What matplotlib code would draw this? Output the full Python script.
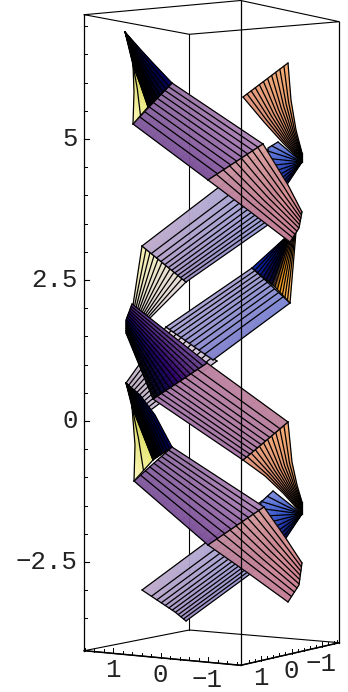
import matplotlib
matplotlib.use('Agg')
import matplotlib.pyplot as plt
from matplotlib.collections import PolyCollection
import numpy as np

box_top = [(84.3, 14.7), (240.7, 0.5), (339.3, 21.7), (189.3, 34.3), (84.3, 14.7)]
box_bottom = [(84.3, 650.7), (189.3, 630), (339.3, 642.7), (240.7, 665.3), (84.3, 650.7)]

z_minor = [-3.5, -3, -2, -1.5, -1, -0.5, 0.5, 1, 1.5, 2, 3, 3.5, 4, 4.5, 5.5, 6, 6.5, 7]
z_major = [-2.5, 0, 2.5, 5]
z_labels = ['\u22122.5', '0', '2.5', '5']
x_ticks = [1.6, 1.4, 1.2, 1, 0.8, 0.6, 0.4, 0.2, 0, -0.2, -0.4, -0.6, -0.8, -1, -1.2, -1.4, -1.6]
y_ticks = [1.4, 1.2, 1, 0.8, 0.6, 0.4, 0.2, 0, -0.2, -0.4, -0.6, -0.8, -1, -1.2, -1.4, -1.5]

# each surface: cross sections, number of cells, spacing power, colours across at both ends
lav_2 = [[(142, 590), (175, 612), (186, 621)], [(262, 501), (272, 558)]]
blue_2 = [[(273, 491), (260, 503), (270, 562)], [(302, 514), (302, 514)]]
pale = [[(166, 327), (217, 361)], [(126, 383), (148, 412)]]
mid_blue = [[(290, 303), (252, 268)], [(213, 360), (166, 327)]]
navy_orange = [[(252, 268), (275, 287), (290, 303)], [(285, 238), (296, 232)]]
purple_2 = [[(134, 481), (172, 447)], [(208, 545), (264, 507)]]
yellow_2 = [[(134, 481), (153, 460)], [(135, 445), (142, 432)], [(132, 407), (132, 407)]]
fan_2 = [[(153, 460), (172, 447)], [(142, 432), (155, 415)], [(132, 407), (140, 395)], [(126, 383), (126, 383)]]
orange_2 = [[(288, 422), (243, 460)], [(292, 462), (265, 476)], [(297, 485), (283, 493)], [(302, 502), (302, 514)]]
mauve = [[(207, 363), (153, 399)], [(288, 422), (243, 460)]]
pink_2 = [[(208, 545), (264, 507)], [(248, 573), (285, 537)], [(288, 602), (299, 585), (302, 563)]]
cream = [[(142, 246), (186, 282)], [(133, 305), (150, 318)]]
dark = [[(207, 363), (153, 399)], [(132, 304), (126, 320), (126, 333)]]
lav_1 = [[(142, 246), (186, 282)], [(270, 148), (272, 222)]]
blue_1 = [[(278, 142), (268, 148), (270, 210)], [(302, 162), (302, 162)]]
purple_1 = [[(133, 124), (172, 83)], [(208, 180), (263, 144)]]
yellow_1 = [[(133, 124), (148, 107)], [(134, 92), (140.5, 85)], [(133, 65), (133, 65)]]
fan_1 = [[(148, 107), (172, 83)], [(140.5, 85), (153, 63)], [(133, 65), (141, 50)], [(125, 32), (125, 32)]]
orange_1 = [[(288, 63), (243, 97)], [(291, 100), (264, 122)], [(296, 130), (283, 143)], [(302, 153), (302, 162)]]
pink_1 = [[(208, 180), (263, 144)], [(248, 210), (288, 185)], [(290, 242), (299, 228), (302, 212)]]

blue_c = ([(125, 140, 220), (70, 100, 215), (35, 60, 190), (10, 30, 110)],
          [(60, 90, 200), (40, 70, 190), (15, 35, 130), (0, 0, 60)])
lav_c = ([(192, 172, 205), (155, 140, 195)], [(170, 168, 215), (150, 155, 215)])
purple_c = ([(125, 85, 155), (150, 115, 165)], [(120, 75, 150), (178, 135, 185)])
yellow_c = ([(250, 245, 190), (238, 238, 130)], [(235, 230, 120), (200, 200, 80)])
fan_c = ([(0, 0, 0), (0, 0, 10), (0, 0, 60), (0, 0, 100)], [(0, 0, 0), (0, 0, 0), (0, 0, 30), (0, 0, 60)])
orange_c = ([(245, 170, 110), (225, 150, 125)], [(215, 140, 95), (200, 125, 100)])
pink_c = ([(190, 135, 160), (222, 160, 155)], [(195, 125, 150), (215, 135, 140)])

surfaces = [
    (lav_2, 11, 0.65, lav_c),
    (blue_2, 10, 1.0, blue_c),
    (pale, 10, 1.0, ([(228, 212, 222), (205, 190, 215)], [(190, 175, 195), (205, 190, 215)])),
    (mid_blue, 10, 0.75, ([(120, 130, 210), (165, 160, 210)], [(125, 125, 205), (170, 165, 210)])),
    (navy_orange, 14, 1.0, ([(10, 35, 165), (0, 20, 140), (0, 0, 70), (0, 0, 30), (240, 150, 20), (245, 165, 60),
                             (250, 180, 100)],
                            [(0, 0, 120), (0, 10, 120), (0, 0, 60), (0, 0, 30), (235, 140, 30), (245, 165, 60),
                             (250, 180, 100)])),
    (purple_2, 9, 0.8, purple_c),
    (orange_2, 11, 1.0, orange_c),
    (yellow_2, 2, 1.0, yellow_c),
    (fan_2, 8, 1.0, fan_c),
    (pink_2, 9, 0.85, pink_c),
    (mauve, 10, 0.75, ([(190, 130, 160), (160, 115, 170)], [(190, 130, 155), (165, 115, 165)])),
    (cream, 11, 1.0, ([(245, 240, 170), (238, 232, 195), (232, 222, 208), (228, 218, 215)],
                      [(235, 225, 195), (232, 225, 210), (228, 218, 212), (225, 215, 215)])),
    (dark, 13, 1.0, ([(112, 72, 150), (95, 55, 135), (75, 30, 120), (45, 0, 105), (20, 0, 85), (0, 0, 40), (0, 0, 0)],
                     [(100, 60, 145), (70, 30, 130), (40, 10, 110), (10, 0, 90), (0, 0, 60), (0, 0, 20), (0, 0, 0)])),
    (lav_1, 11, 0.65, lav_c),
    (blue_1, 10, 1.0, blue_c),
    (purple_1, 9, 0.8, purple_c),
    (yellow_1, 2, 1.0, yellow_c),
    (fan_1, 8, 1.0, fan_c),
    (orange_1, 11, 1.0, orange_c),
    (pink_1, 9, 0.85, pink_c),
]


def along(line, t):
    line = np.array(line, dtype=float)
    d = np.r_[0, np.cumsum(np.hypot(*np.diff(line, axis=0).T))]
    if d[-1] == 0:
        return np.tile(line[0], (len(t), 1))
    d = d / d[-1]
    return np.c_[np.interp(t, d, line[:, 0]), np.interp(t, d, line[:, 1])]


def colour_at(cols, t):
    cols = np.array(cols, dtype=float) / 255
    k = np.linspace(0, 1, len(cols))
    return np.c_[[np.interp(t, k, cols[:, i]) for i in range(3)]].T


def grid(sections, t):
    rows = [along(s, t) for s in sections]
    out = []
    for a, b in zip(rows[:-1], rows[1:]):
        for s in np.linspace(0, 1, 8, endpoint=False):
            out.append((1 - s) * a + s * b)
    out.append(rows[-1])
    return np.array(out)


def draw_surface(ax, sections, n, power, cols, z):
    t = np.linspace(0, 1, 61)
    g = grid(sections, t)
    c0 = colour_at(cols[0], t)
    c1 = colour_at(cols[1], t)
    quads = []
    fc = []
    for i in range(g.shape[0] - 1):
        s = i / (g.shape[0] - 2)
        for j in range(g.shape[1] - 1):
            quads.append([g[i, j], g[i, j + 1], g[i + 1, j + 1], g[i + 1, j]])
            fc.append((1 - s) * c0[j] + s * c1[j])
    ax.add_collection(PolyCollection(quads, facecolors=fc, edgecolors=fc, linewidths=0.3, zorder=z))
    r = grid(sections, (np.arange(n + 1) / n) ** power)
    for j in range(n + 1):
        ax.plot(r[:, j, 0], r[:, j, 1], color='black', lw=0.9, zorder=z + 0.1, solid_capstyle='round')
    e0 = along(sections[0], np.linspace(0, 1, 20))
    e1 = along(sections[-1], np.linspace(0, 1, 20))
    ax.plot(e0[:, 0], e0[:, 1], color='black', lw=0.9, zorder=z + 0.1)
    ax.plot(e1[:, 0], e1[:, 1], color='black', lw=0.9, zorder=z + 0.1)


fig = plt.figure(figsize=(3.48, 6.92), dpi=100)
ax = fig.add_axes([0, 0, 1, 1])
ax.set_xlim(0, 348)
ax.set_ylim(692, 0)
ax.axis('off')

# back of the box, under the surfaces
ax.plot(*zip(*box_top), color='black', lw=0.8, zorder=1)
ax.plot(*zip(*box_bottom), color='black', lw=0.8, zorder=1)
ax.plot([84.3, 240.7], [650.7, 665.3], color='black', lw=1.1, zorder=50)
ax.plot([240.7, 339.3], [665.3, 642.7], color='black', lw=1.1, zorder=50)
ax.plot([189.3, 189.3], [34.3, 630], color='black', lw=0.8, zorder=1)

for k, (sections, n, power, cols) in enumerate(surfaces):
    draw_surface(ax, sections, n, power, cols, 2 + k)

# front of the box
ax.plot([84.3, 84.3], [14.7, 650.7], color='black', lw=0.9, zorder=50)
ax.plot([240.7, 240.7], [0.5, 665.3], color='black', lw=0.9, zorder=50)
ax.plot([339.3, 339.3], [21.7, 642.7], color='black', lw=0.9, zorder=50)


def z_px(v):
    return 421 - 56.4 * v


for v in z_minor:
    ax.plot([84.3, 87.3], [z_px(v), z_px(v)], color='black', lw=0.7, zorder=50)
for v, lab in zip(z_major, z_labels):
    ax.plot([84.3, 89.3], [z_px(v), z_px(v)], color='black', lw=0.8, zorder=50)
    ax.text(78, z_px(v), lab, family='Liberation Mono', fontsize=18.5, ha='right', va='center', color='#222222')

for v in x_ticks:
    px = 160.5 - 47.5 * v
    py = 650.7 + (px - 84.3) * (665.3 - 650.7) / (240.7 - 84.3)
    size = 5 if v in (1, 0, -1) else 3
    ax.plot([px, px], [py, py - size], color='black', lw=0.7, zorder=50)
for v in y_ticks:
    px = 291.5 - 30.5 * v
    py = 665.3 + (px - 240.7) * (642.7 - 665.3) / (339.3 - 240.7)
    size = 5 if v in (1, 0, -1) else 3
    ax.plot([px, px], [py, py - size], color='black', lw=0.7, zorder=50)

for px, py, lab in zip([113, 160, 207, 261, 291, 321], [670, 675, 680, 678, 671, 664],
                       ['1', '0', '\u22121', '1', '0', '\u22121']):
    ax.text(px, py, lab, family='Liberation Mono', fontsize=18.5, ha='center', va='center', color='#222222')

fig.savefig('out.png', dpi=100)
